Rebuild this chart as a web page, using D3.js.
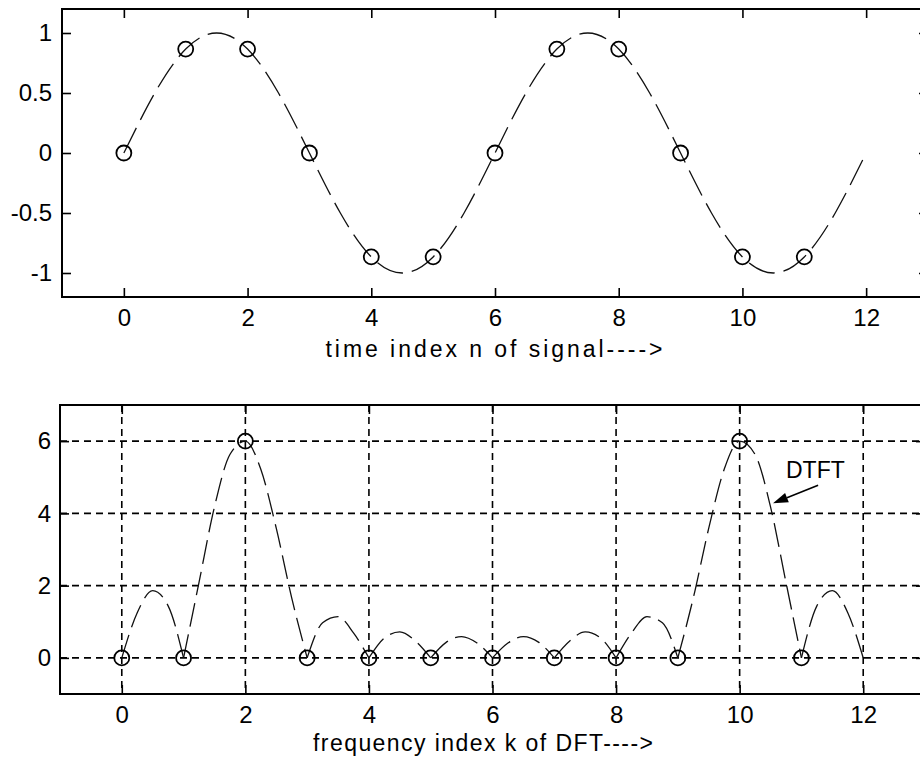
<!DOCTYPE html>
<html>
<head>
<meta charset="utf-8">
<script src="https://cdn.jsdelivr.net/npm/d3@7/dist/d3.min.js"></script>
<style>
  body { margin: 0; background: #fff; }
  svg { display: block; font-family: "Liberation Sans", Arial, Helvetica, sans-serif; }
  .axis .domain { display: none; }
  .axis line { stroke: #000; stroke-width: 1.6; }
  .axis text { fill: #000; font-size: 24px; }
</style>
</head>
<body>
<div id="chart"></div>
<script>
// ---- data ----
const xTickValues = [0, 2, 4, 6, 8, 10, 12];

// upper panel: 12 samples of the signal and the underlying continuous wave
const sampleIndex = [0, 1, 2, 3, 4, 5, 6, 7, 8, 9, 10, 11];
const signalSamples = [0, 0.866, 0.866, 0, -0.866, -0.866, 0, 0.866, 0.866, 0, -0.866, -0.866];
const waveTime = [0, 0.5, 1, 1.5, 2, 2.5, 3, 3.5, 4, 4.5, 5, 5.5, 6,
                  6.5, 7, 7.5, 8, 8.5, 9, 9.5, 10, 10.5, 11, 11.5, 12];
const waveValues = [0, 0.5, 0.866, 1, 0.866, 0.5, 0, -0.5, -0.866, -1, -0.866, -0.5, 0,
                    0.5, 0.866, 1, 0.866, 0.5, 0, -0.5, -0.866, -1, -0.866, -0.5, 0];
const signalYTicks = [-1, -0.5, 0, 0.5, 1];
const signalYLabels = ["-1", "-0.5", "0", "0.5", "1"];

// lower panel: DFT magnitudes and the DTFT envelope
const dftIndex = [0, 1, 2, 3, 4, 5, 6, 7, 8, 9, 10, 11];
const dftMagnitude = [0, 0, 6, 0, 0, 0, 0, 0, 0, 0, 6, 0];
const dtftFreq = [0, 0.25, 0.5, 0.75, 1, 1.25, 1.5, 1.75, 2, 2.25, 2.5, 2.75, 3,
                  3.25, 3.5, 3.75, 4, 4.25, 4.5, 4.75, 5, 5.25, 5.5, 5.75, 6,
                  6.25, 6.5, 6.75, 7, 7.25, 7.5, 7.75, 8, 8.25, 8.5, 8.75, 9,
                  9.25, 9.5, 9.75, 10, 10.25, 10.5, 10.75, 11, 11.25, 11.5, 11.75, 12];
const dtftMagnitude = [0, 1.25, 1.86, 1.44, 0, 2.09, 4.18, 5.63, 6, 5.22, 3.59, 1.66, 0,
                       0.97, 1.14, 0.69, 0, 0.55, 0.72, 0.47, 0, 0.43, 0.59, 0.41, 0,
                       0.41, 0.59, 0.43, 0, 0.47, 0.72, 0.55, 0, 0.69, 1.14, 0.97, 0,
                       1.66, 3.59, 5.22, 6, 5.63, 4.18, 2.09, 0, 1.44, 1.86, 1.25, 0];
const dftYTicks = [0, 2, 4, 6];

// annotation (data units)
const dtftLabel = { text: "DTFT", x: 10.75, y: 4.98 };
const dtftArrow = { from: [11.27, 4.78], to: [10.54, 4.28] };


class SignalPanel {
    constructor(config) {
        this.config = config;
        this.configureVis();
    }

    configureVis() {
        const vis = this;
        const c = vis.config;

        vis.width = c.width;
        vis.height = c.height;

        vis.xScale = d3.scaleLinear().domain([-1, 13]).range([0, vis.width]);
        vis.yScale = d3.scaleLinear().domain(c.yDomain).range([vis.height, 0]);

        vis.chart = c.svg.append('g')
            .attr('transform', `translate(${c.left},${c.top})`);

        vis.lineGen = d3.line()
            .x(d => vis.xScale(d[0]))
            .y(d => vis.yScale(d[1]))
            .curve(c.curve);

        vis.renderVis();
    }

    renderVis() {
        const vis = this;
        const c = vis.config;

        if (c.grid) {
            vis.chart.selectAll('.grid-x')
                .data(xTickValues)
                .join('line')
                .attr('class', 'grid-x')
                .attr('x1', d => vis.xScale(d)).attr('x2', d => vis.xScale(d))
                .attr('y1', 0).attr('y2', vis.height)
                .attr('stroke', '#000').attr('stroke-width', 1.6)
                .attr('stroke-dasharray', '7,5');
            vis.chart.selectAll('.grid-y')
                .data(c.yTicks)
                .join('line')
                .attr('class', 'grid-y')
                .attr('y1', d => vis.yScale(d)).attr('y2', d => vis.yScale(d))
                .attr('x1', 0).attr('x2', vis.width)
                .attr('stroke', '#000').attr('stroke-width', 1.6)
                .attr('stroke-dasharray', '7,5');
        }

        vis.chart.selectAll('.wave')
            .data(c.curveSegments)
            .join('path')
            .attr('class', 'wave')
            .attr('d', seg => vis.lineGen(seg))
            .attr('fill', 'none')
            .attr('stroke', '#111')
            .attr('stroke-width', 1.3)
            .attr('stroke-dasharray', c.curveDash);

        vis.chart.selectAll('.sample')
            .data(c.samples)
            .join('circle')
            .attr('class', 'sample')
            .attr('cx', d => vis.xScale(d[0]))
            .attr('cy', d => vis.yScale(d[1]))
            .attr('r', 7.5)
            .attr('fill', 'none')
            .attr('stroke', '#000')
            .attr('stroke-width', 1.8);

        // axes with inward ticks on all four sides
        const tick = 9;
        vis.chart.append('g')
            .attr('class', 'axis')
            .attr('transform', `translate(0,${vis.height})`)
            .call(d3.axisBottom(vis.xScale).tickValues(xTickValues)
                .tickSizeInner(-tick).tickSizeOuter(0).tickPadding(c.xPad));
        vis.chart.append('g')
            .attr('class', 'axis')
            .call(d3.axisTop(vis.xScale).tickValues(xTickValues)
                .tickSizeInner(-tick).tickSizeOuter(0).tickFormat(''));
        vis.chart.append('g')
            .attr('class', 'axis')
            .call(d3.axisLeft(vis.yScale).tickValues(c.yTicks)
                .tickSizeInner(-tick).tickSizeOuter(0).tickPadding(c.yPad)
                .tickFormat((d, i) => c.yLabels[i]));
        vis.chart.append('g')
            .attr('class', 'axis')
            .attr('transform', `translate(${vis.width},0)`)
            .call(d3.axisRight(vis.yScale).tickValues(c.yTicks)
                .tickSizeInner(-tick).tickSizeOuter(0).tickFormat(''));

        vis.chart.append('rect')
            .attr('width', vis.width)
            .attr('height', vis.height)
            .attr('fill', 'none')
            .attr('stroke', '#000')
            .attr('stroke-width', 2);

        vis.chart.append('text')
            .attr('x', c.labelX - c.left)
            .attr('y', c.labelY - c.top)
            .attr('text-anchor', 'middle')
            .attr('textLength', c.labelWidth)
            .attr('lengthAdjust', 'spacing')
            .style('font-size', '23px')
            .text(c.xLabel);
    }
}

// split a curve into runs between its zeros so the notches stay sharp
function lobes(xs, ys) {
    const out = [];
    let run = [];
    xs.forEach((x, i) => {
        run.push([x, ys[i]]);
        if (ys[i] === 0 && run.length > 1) {
            out.push(run);
            run = [[x, ys[i]]];
        }
    });
    if (run.length > 1) out.push(run);
    return out;
}

const svg = d3.select('#chart').append('svg')
    .attr('width', 920)
    .attr('height', 767);

new SignalPanel({
    svg: svg, left: 62, top: 9, width: 866, height: 288,
    yDomain: [-1.2, 1.2], yTicks: signalYTicks, yLabels: signalYLabels,
    samples: sampleIndex.map((n, i) => [n, signalSamples[i]]),
    curveSegments: [waveTime.map((t, i) => [t, waveValues[i]])],
    curve: d3.curveNatural, curveDash: '28,9',
    grid: false, xPad: 12, yPad: 10,
    xLabel: 'time index n of signal---->', labelX: 494, labelY: 357, labelWidth: 337
});

const lower = new SignalPanel({
    svg: svg, left: 60, top: 405, width: 865, height: 289,
    yDomain: [-1, 7], yTicks: dftYTicks, yLabels: dftYTicks.map(String),
    samples: dftIndex.map((k, i) => [k, dftMagnitude[i]]),
    curveSegments: lobes(dtftFreq, dtftMagnitude),
    curve: d3.curveMonotoneX, curveDash: '24,8',
    grid: true, xPad: 12, yPad: 9,
    xLabel: 'frequency index k of DFT---->', labelX: 483, labelY: 751, labelWidth: 340
});

// DTFT annotation with arrow
const ax = lower.xScale, ay = lower.yScale;
lower.chart.append('text')
    .attr('x', ax(dtftLabel.x))
    .attr('y', ay(dtftLabel.y))
    .style('font-size', '23px')
    .text(dtftLabel.text);

const tail = [ax(dtftArrow.from[0]), ay(dtftArrow.from[1])];
const tip = [ax(dtftArrow.to[0]), ay(dtftArrow.to[1])];
const len = Math.hypot(tail[0] - tip[0], tail[1] - tip[1]);
const ux = (tail[0] - tip[0]) / len, uy = (tail[1] - tip[1]) / len;
const headLen = 15, headHalf = 5;
const base = [tip[0] + ux * headLen, tip[1] + uy * headLen];
lower.chart.append('line')
    .attr('x1', tail[0]).attr('y1', tail[1])
    .attr('x2', base[0]).attr('y2', base[1])
    .attr('stroke', '#000').attr('stroke-width', 1.6);
lower.chart.append('path')
    .attr('d', `M${tip[0]},${tip[1]}L${base[0] - uy * headHalf},${base[1] + ux * headHalf}` +
               `L${base[0] + uy * headHalf},${base[1] - ux * headHalf}Z`)
    .attr('fill', '#000');
</script>
</body>
</html>
